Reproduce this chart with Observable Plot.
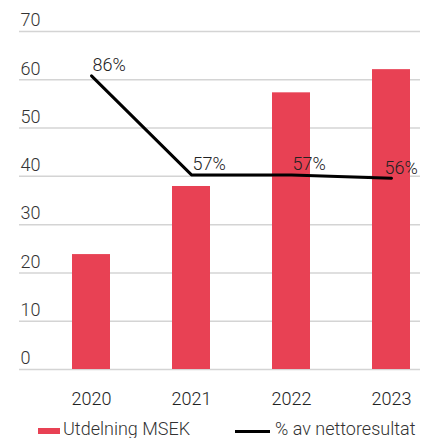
<!DOCTYPE html>
<html>
<head>
<meta charset="utf-8">
<script src="https://cdn.jsdelivr.net/npm/d3@7"></script>
<script src="https://cdn.jsdelivr.net/npm/@observablehq/plot@0.6"></script>
<style>
  html, body { margin: 0; padding: 0; background: #fff; }
  body { width: 423px; height: 438px; overflow: hidden; font-family: Roboto, sans-serif; }
  #legend { position: relative; height: 22px; top: 2px; font-size: 18px; color: #333; font-weight: 300; }
  #legend span { position: absolute; top: 0; line-height: 22px; white-space: nowrap; }
  .sw { position: absolute; }
</style>
</head>
<body>
<div id="chart"></div>
<div id="legend">
  <div class="sw" style="left:38px; top:10px; width:22px; height:6px; background:#e84154;"></div>
  <span style="left:63px;">Utdelning MSEK</span>
  <div class="sw" style="left:235px; top:12px; width:35px; height:3px; background:#000;"></div>
  <span style="left:275px;">% av nettoresultat</span>
</div>
<script>
const years = ["2020", "2021", "2022", "2023"];
const dividend = [23.8, 37.9, 57.3, 62.1];   // Utdelning MSEK
const payoutPct = [86, 57, 57, 56];            // % av nettoresultat
const payoutLabels = ["86%", "57%", "57%", "56%"];
const yTicks = [0, 10, 20, 30, 40, 50, 60, 70];
const pctAxisMax = 99; // secondary (hidden) axis: 0–99 % over the 0–70 range

const rows = years.map((y, i) => ({
  year: y,
  value: dividend[i],
  pct: payoutPct[i],
  label: payoutLabels[i],
  last: i === years.length - 1
}));
const toLeft = p => p / pctAxisMax * 70;

const chart = Plot.plot({
  width: 423,
  height: 416,
  marginLeft: 19,
  marginRight: 3,
  marginTop: 31,
  marginBottom: 47,
  style: { fontFamily: "Roboto, sans-serif", fontSize: "18px", color: "#333" },
  x: { domain: years, paddingInner: 0.623, paddingOuter: 0.3, align: 0.84, label: null },
  y: { domain: [0, 70], label: null, axis: null },
  marks: [
    Plot.ruleY(yTicks, { stroke: "#d4d4d4", strokeWidth: 1.5 }),
    Plot.barY(rows, { x: "year", y: "value", fill: "#e84154" }),
    Plot.line(rows, { x: "year", y: d => toLeft(d.pct), stroke: "#000", strokeWidth: 3 }),
    Plot.text(rows.filter(d => !d.last), { x: "year", y: d => toLeft(d.pct), text: "label", textAnchor: "start", dx: 1, dy: -11, fill: "#222", fontWeight: 300, fontSize: 18 }),
    Plot.text(rows.filter(d => d.last), { x: "year", y: d => toLeft(d.pct), text: "label", textAnchor: "start", dx: -7, dy: -10, fill: "#222", fontWeight: 300, fontSize: 18 }),
    Plot.text(yTicks, { y: d => d, text: d => String(d), frameAnchor: "left", textAnchor: "start", dx: 1, dy: -11, fill: "#333", fontWeight: 300, fontSize: 18 }),
    Plot.axisX({ tickSize: 0, tickPadding: 23, fontSize: 18, fontWeight: 300, fill: "#222", label: null })
  ]
});
document.getElementById("chart").appendChild(chart);
</script>
</body>
</html>
